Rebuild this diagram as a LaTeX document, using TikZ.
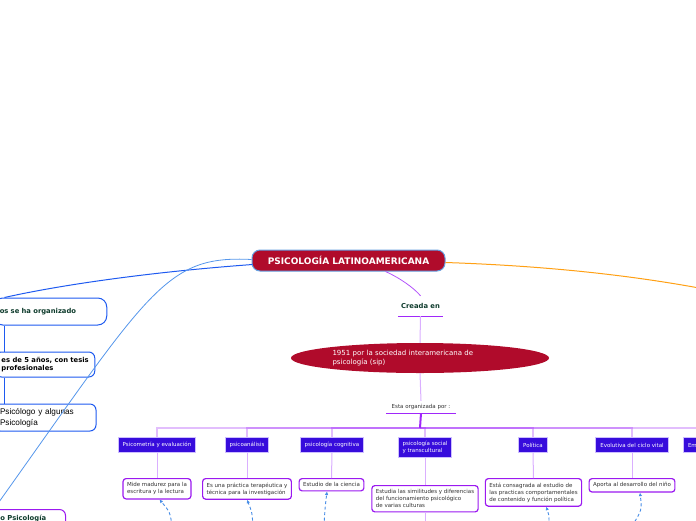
\documentclass[tikz,border=0pt]{standalone}
\usepackage{fontspec}
\setmainfont{DejaVu Sans}
\newfontfamily\arialfont{Liberation Sans}
\usepackage{tikz}
\usetikzlibrary{arrows.meta,calc,shapes.geometric}
\definecolor{rootred}{RGB}{176,11,43}
\definecolor{rootrim}{RGB}{100,160,225}
\definecolor{catfill}{RGB}{55,12,220}
\definecolor{catrim}{RGB}{205,190,255}
\definecolor{descrim}{RGB}{155,25,240}
\definecolor{sidedark}{RGB}{30,90,240}
\definecolor{sidelight}{RGB}{85,150,235}
\definecolor{labgreen}{RGB}{15,60,45}
\definecolor{lilac}{RGB}{218,175,255}
\definecolor{figviolet}{RGB}{160,40,250}
\definecolor{figorange}{RGB}{255,160,20}
\definecolor{figtext}{RGB}{50,50,50}
\definecolor{dashblue}{RGB}{70,140,230}
\tikzset{
  rootbox/.style ={draw=rootrim, fill=rootred, line width=1pt, rounded corners=8pt, text=white,
                   font=\fontsize{9}{10}\selectfont\bfseries, minimum width=193pt, minimum height=21pt, inner sep=0pt},
  oval/.style    ={ellipse, fill=rootred, text=white, font=\fontsize{7}{9}\selectfont, align=left,
                   text width=175pt, minimum width=258pt, minimum height=30pt, inner sep=0pt},
  lblg/.style    ={font=\fontsize{6.8}{8}\selectfont\bfseries, text=labgreen, inner sep=0pt},
  lbls/.style    ={font=\fontsize{5.5}{7}\selectfont, text=figtext, inner sep=0pt},
  catbox/.style  ={draw=catrim, fill=catfill, line width=1pt, text=white, font=\fontsize{5.5}{7}\selectfont,
                   inner xsep=4.5pt, inner ysep=0pt, minimum height=15pt},
  descbox/.style ={draw=descrim, fill=white, line width=1.2pt, rounded corners=3pt, text=figtext,
                   font=\fontsize{5.5}{7}\selectfont, align=left, inner xsep=4pt, inner ysep=4pt},
  sidebox/.style ={draw=sidedark, fill=white, line width=1pt, rounded corners=6pt, align=left, inner xsep=6pt},
  sidebf/.style  ={font=\fontsize{6.8}{8.7}\selectfont\bfseries},
  lk/.style      ={draw=lilac, line width=1pt},
  lkbus/.style   ={draw=figviolet, draw opacity=0.3, line width=1.2pt},
  lkb/.style     ={draw=figviolet, line width=2pt},
  plk/.style     ={draw=figviolet!80, line width=0.8pt},
  uline/.style   ={draw=figviolet, line width=1.2pt},
  sidelk/.style  ={draw=sidedark, line width=1pt},
  sidelt/.style  ={draw=sidelight, line width=0.8pt},
  orlk/.style    ={draw=figorange, line width=1pt},
  dptr/.style    ={draw=dashblue, line width=0.9pt, dash pattern=on 3pt off 2.5pt,
                   -{Latex[length=3.5pt,width=3.5pt]}},
}
\begin{document}
\begin{tikzpicture}[x=1pt,y=-1pt]
  \useasboundingbox (0,0) rectangle (696,520);
  \clip (0,0) rectangle (696,520);
  \node[rootbox] (root) at (348.5,260.5) {PSICOLOGÍA LATINOAMERICANA};
  \node[lblg, minimum width=45pt, minimum height=20pt] (creada) at (420.5,306) {Creada en};
  \node[oval] (year) at (420,358) {1951 por la sociedad interamericana de\\psicología (sip)};
  \node[lbls, minimum width=69pt, minimum height=12pt] (org) at (421,407) {Esta organizada por :};
  \coordinate (bus) at (420,428);
  \node[catbox, anchor=north] (psicom) at (157,437) {Psicometría y evaluación};
  \node[catbox, anchor=north] (psicoan) at (247,437) {psicoanálisis};
  \node[catbox, anchor=north] (cogn) at (332,437) {psicología cognitiva};
  \node[catbox, anchor=north, minimum height=20pt, align=left] (social) at (425,437) {psicología social\\y transcultural};
  \node[catbox, anchor=north] (polit) at (533,437) {Política};
  \node[catbox, anchor=north] (evol) at (632,437) {Evolutiva del ciclo vital};
  \node[catbox, anchor=north west, text width=30pt, align=left] (emoc) at (683,437) {Em};
  \node[descbox, anchor=north] (mide) at (157,478) {Mide madurez para la\\escritura y la lectura};
  \node[descbox, anchor=north] (terap) at (247,478) {Es una práctica terapéutica y\\técnica para la investigación};
  \node[descbox, anchor=north] (ciencia) at (331.5,478) {Estudio de la ciencia};
  \node[descbox, anchor=north] (simil) at (425,485) {Estudia las similitudes y diferencias\\del funcionamiento psicológico\\de varias culturas};
  \node[descbox, anchor=north] (consag) at (533.5,478) {Está consagrada al estudio de\\las practicas comportamentales\\de contenido y función política};
  \node[descbox, anchor=north] (aporta) at (632,478) {Aporta al desarrollo del niño};
  \node[sidebox, sidebf, text=labgreen, text width=101pt, minimum height=27pt, rounded corners=9pt] (organ) at (50.25,311.5) {os se ha organizado};
  \node[sidebox, sidebf, anchor=west, minimum height=25pt] (tesis) at (-5,364.5) {es de 5 años, con tesis\\profesionales};
  \node[sidebox, font=\arialfont\fontsize{8.2}{11}\selectfont, text width=90pt, minimum height=27pt] (psicologo) at (45,417.5) {Psicólogo y algunas\\Psicología};
  \node[sidebox, sidebf, draw=descrim, text=labgreen, anchor=north west, text width=59pt, minimum height=19pt] (opsi) at (-6,509) {o Psicología};
  \coordinate (lane) at (4.5,0);
  \coordinate (farright) at (720,292);
  \coordinate (below) at (425,530);
  \coordinate (m1) at (172,526);
  \coordinate (m2) at (253,526);
  \coordinate (m3) at (324,526);
  \coordinate (m5) at (549,526);
  \coordinate (m6) at (632,526);
  \draw[plk] ($(root.south)+(37,0)$) .. controls (400,278) and (414,288) .. (creada.north);
  \draw[uline] (creada.south west) -- (creada.south east);
  \draw[lk] (creada.south) -- (year.north);
  \draw[lk] (year.south) -- (org.north);
  \draw[uline] (org.south west) -- (org.south east);
  \draw[lkb] (org.south) -- (bus);
  \foreach \c in {psicom,psicoan,cogn,social,polit,evol,emoc}
    \draw[lkbus] (bus) -| (\c.north);
  \foreach \a/\b in {psicom/mide,psicoan/terap,cogn/ciencia,social/simil,polit/consag,evol/aporta}
    \draw[lk] (\a.south) -- (\b.north);
  \draw[lk] (simil.south) -- (below);
  \draw[orlk] ($(root.east)+(0,2)$) .. controls (550,266) and (640,276) .. (farright);
  \draw[sidelk] ($(root.west)+(1,4)$) .. controls (150,272) and (60,285) .. (organ.north -| lane);
  \draw[sidelk] (organ.south -| lane) -- (tesis.north -| lane);
  \draw[sidelk] (tesis.south -| lane) -- (psicologo.north -| lane);
  \draw[sidelt] ($(root.west)+(0,-1)$) .. controls (165,255) and (150,290) .. (opsi.north west);
  \draw[dptr] (m1) .. controls (170,512) .. ($(mide.south)+(2.5,0)$);
  \draw[dptr] (m2) .. controls (252,512) .. (terap.south);
  \draw[dptr] (m3) .. controls (325,508) .. ($(ciencia.south)+(-4.5,0)$);
  \draw[dptr] (m5) .. controls (549,514) .. ($(consag.south)+(12.5,0)$);
  \draw[dptr] (m6) .. controls (642,510) .. ($(aporta.south)+(8,0)$);
\end{tikzpicture}
\end{document}
